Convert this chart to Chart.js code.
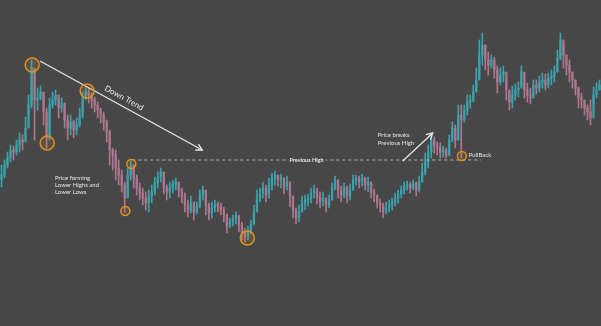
<!DOCTYPE html>
<html>
<head>
<meta charset="utf-8">
<script src="https://cdn.jsdelivr.net/npm/chart.js@4"></script>
<style>
html,body{margin:0;padding:0;background:#474747;}
#wrap{width:601px;height:326px;}
</style>
</head>
<body>
<div id="wrap"><canvas id="chart"></canvas></div>
<script>
// candle data (price units)
const firstOpen = 146;
const closes = [
151,161,168,176,174,181,186,184,198,221,
258,226,228,234,214,188,221,226,231,218,
223,206,198,204,196,201,211,228,234,231,
226,221,216,211,204,194,176,171,158,151,
141,128,151,161,148,138,133,128,123,130,
134,143,148,154,138,134,138,142,144,136,
130,121,116,124,114,120,131,136,121,113,
118,122,120,116,112,100,104,107,110,101,
93,90,96,102,114,128,133,138,131,141,
148,151,146,148,140,144,130,116,108,114,
123,126,128,133,136,129,124,128,121,126,
138,146,136,131,138,130,136,146,148,144,
148,141,144,134,131,123,120,114,118,121,
124,128,132,136,140,142,138,143,136,144,
154,164,174,186,180,178,174,176,171,186,
198,186,211,206,216,224,226,234,246,271,
281,266,261,266,256,244,251,254,236,224,
231,236,238,254,236,231,228,241,238,244,
246,241,248,250,254,268,286,271,261,254,
246,238,228,226,218,214,208,231,236,241
];
const highs = [
161,166,174,181,180,186,193,191,209,231,
266,256,238,240,231,218,228,234,236,226,
228,223,211,211,206,208,218,234,239,238,
233,229,224,218,214,206,196,178,176,166,
156,144,158,165,161,151,143,138,134,136,
141,149,154,158,151,141,144,146,148,144,
138,133,126,130,123,124,136,140,134,123,
124,126,124,123,119,111,108,111,114,111,
104,98,100,106,121,136,138,144,141,148,
153,155,151,152,148,150,144,126,118,121,
130,131,132,138,141,138,134,134,128,131,
143,150,146,140,143,140,142,151,151,150,
152,149,149,141,137,131,127,123,124,126,
128,133,136,140,144,145,144,146,144,150,
163,173,181,192,189,184,183,180,178,191,
204,201,221,221,221,231,231,241,258,286,
293,281,274,271,269,260,258,260,248,234,
240,242,244,260,248,243,238,246,246,250,
253,252,253,256,260,276,293,281,271,266,
254,246,239,233,226,221,226,239,243,246
];
const lows = [
139,148,158,164,166,171,174,176,186,211,
218,186,216,226,201,178,186,218,221,208,
214,198,186,191,188,191,199,208,226,223,
218,214,208,203,196,184,161,156,146,141,
134,114,131,146,138,131,126,121,116,114,
123,131,138,144,132,126,128,133,136,129,
123,114,109,113,106,112,118,126,111,106,
108,114,114,111,104,93,98,100,102,94,
86,84,86,92,101,116,124,128,124,128,
136,141,140,138,132,136,119,108,102,104,
114,116,120,123,128,122,118,120,114,118,
126,136,128,124,128,123,126,136,141,138,
140,136,134,128,124,118,114,108,112,114,
116,120,123,128,132,136,133,136,130,134,
144,151,158,168,173,171,168,169,168,170,
184,178,186,168,204,211,218,224,236,254,
261,256,251,258,248,233,241,244,226,216,
218,226,229,241,228,224,222,230,232,234,
238,236,238,241,244,254,266,258,251,244,
238,231,218,218,211,206,201,221,228,236
];

// marked swing points: [candle index, price, big?]
const swings = [
  [10.2, 261, true], [15.2, 183, true], [28.5, 235, true],
  [41.2, 115, false], [43.2, 162, false], [81.8, 88, true], [153.2, 170, false]
];
const prevHigh = 166;
const prevHighFrom = 43.5, prevHighTo = 159.5;
const trendLine = [[12.8, 265], [66.8, 176]];
const breakArrow = [[133.5, 165], [143.5, 193]];

const upColor = '#3aa3ad';
const downColor = '#ad7790';

let opens = closes.map((c,i)=> i==0 ? firstOpen : closes[i-1]);
let colors = closes.map((c,i)=> c>=opens[i] ? upColor : downColor);
let labels = closes.map((c,i)=> i+1);

function arrowHead(ctx, x1, y1, x2, y2){
    let a = Math.atan2(y2-y1, x2-x1);
    let len = 7;
    ctx.beginPath();
    ctx.moveTo(x2 - len*Math.cos(a-0.5), y2 - len*Math.sin(a-0.5));
    ctx.lineTo(x2, y2);
    ctx.lineTo(x2 - len*Math.cos(a+0.5), y2 - len*Math.sin(a+0.5));
    ctx.stroke();
}

const notes = {
    id:'notes',
    afterDatasetsDraw(chart){
        let ctx = chart.ctx;
        let xs = chart.scales.x, ys = chart.scales.y;
        let px = i => xs.getPixelForValue(i);
        let py = v => ys.getPixelForValue(v);
        ctx.save();

        // previous high dotted line
        ctx.strokeStyle = '#b4b4b4';
        ctx.lineWidth = 1;
        ctx.setLineDash([3,3]);
        ctx.beginPath();
        ctx.moveTo(px(prevHighFrom), py(prevHigh));
        ctx.lineTo(px(prevHighTo), py(prevHigh));
        ctx.stroke();
        ctx.setLineDash([]);

        ctx.font = 'bold 5.5px Lato';
        ctx.textAlign = 'center';
        ctx.textBaseline = 'middle';
        let lx = px(101.5), ly = py(prevHigh);
        let w = ctx.measureText('Previous High').width;
        ctx.fillStyle = '#474747';
        ctx.fillRect(lx - w/2 - 2, ly - 4, w + 4, 8);
        ctx.fillStyle = '#e6e6e6';
        ctx.fillText('Previous High', lx, ly);

        // trend line + arrow
        ctx.strokeStyle = '#e6e6e6';
        ctx.lineWidth = 1.3;
        let tx1 = px(trendLine[0][0]), ty1 = py(trendLine[0][1]);
        let tx2 = px(trendLine[1][0]), ty2 = py(trendLine[1][1]);
        ctx.beginPath();
        ctx.moveTo(tx1, ty1);
        ctx.lineTo(tx2, ty2);
        ctx.stroke();
        arrowHead(ctx, tx1, ty1, tx2, ty2);

        ctx.save();
        ctx.translate(px(40.8), py(228));
        ctx.rotate(Math.atan2(ty2-ty1, tx2-tx1));
        ctx.font = '8px Lato';
        ctx.fillStyle = '#e6e6e6';
        ctx.fillText('Down Trend', 0, 0);
        ctx.restore();

        // breakout arrow
        let bx1 = px(breakArrow[0][0]), by1 = py(breakArrow[0][1]);
        let bx2 = px(breakArrow[1][0]), by2 = py(breakArrow[1][1]);
        ctx.beginPath();
        ctx.moveTo(bx1, by1);
        ctx.lineTo(bx2, by2);
        ctx.stroke();
        arrowHead(ctx, bx1, by1, bx2, by2);

        // text notes
        ctx.fillStyle = '#e6e6e6';
        ctx.textAlign = 'left';
        ctx.font = '6px Lato';
        ctx.fillText('Price forming', px(17.8), py(148));
        ctx.fillText('Lower Highs and', px(17.8), py(141));
        ctx.fillText('Lower Lows', px(17.8), py(134));
        ctx.fillText('Price breaks', px(125.2), py(191));
        ctx.fillText('Previous High', px(125.2), py(183));
        ctx.fillText('PullBack', px(155.5), py(171));

        // swing circles
        ctx.strokeStyle = '#e0901f';
        ctx.fillStyle = 'rgba(224,144,31,0.15)';
        ctx.lineWidth = 1.5;
        swings.forEach((s)=>{
            ctx.beginPath();
            ctx.arc(px(s[0]), py(s[1]), s[2] ? 7 : 4.5, 0, Math.PI*2);
            ctx.fill();
            ctx.stroke();
        });
        ctx.restore();
    }
};

new Chart(document.getElementById('chart'), {
    type: 'bar',
    data: {
        labels: labels,
        datasets: [{
            label: 'wick',
            data: lows.map((l,i)=> [l, highs[i]]),
            backgroundColor: colors,
            barThickness: 1,
            grouped: false
        },{
            label: 'body',
            data: opens.map((o,i)=> [o, closes[i]]),
            backgroundColor: colors,
            barThickness: 1.6,
            minBarLength: 1,
            grouped: false
        }]
    },
    options: {
        responsive: true,
        maintainAspectRatio: false,
        animation: false,
        layout: {padding: 0},
        plugins: {legend: {display: false}, tooltip: {enabled: false}},
        scales: {
            x: {display: false, offset: true},
            y: {display: false, min: 0, max: 326}
        }
    },
    plugins: [notes]
});
</script>
</body>
</html>
